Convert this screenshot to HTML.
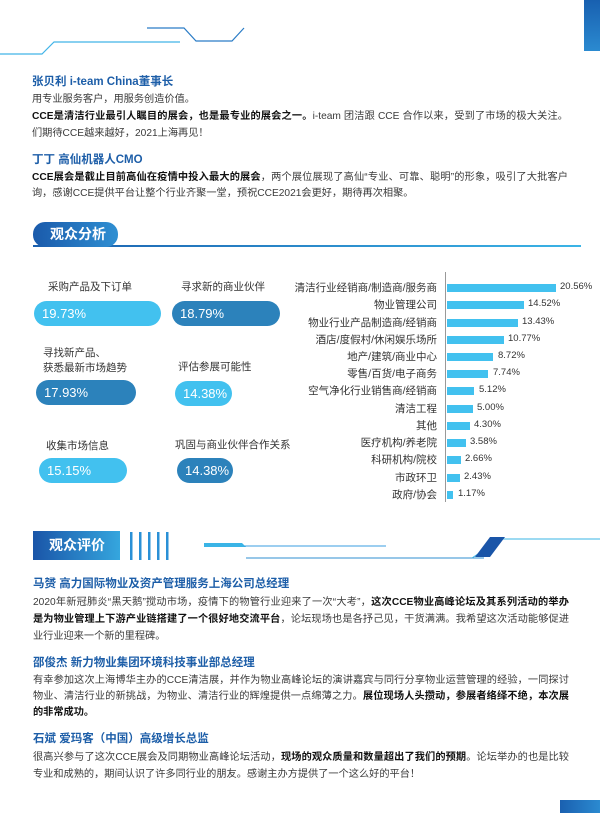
<!DOCTYPE html>
<html><head><meta charset="utf-8"><style>
*{margin:0;padding:0;box-sizing:border-box}
body{width:600px;height:813px;position:relative;background:#fff;font-family:"Liberation Sans","Noto Sans CJK SC",sans-serif;color:#333;overflow:hidden}
.a{position:absolute;white-space:nowrap}
.h{font-size:11.5px;font-weight:bold;color:#1d5ea8}
.t{font-size:10.2px;color:#3a3a3a}
.f{width:536px;white-space:normal;text-align:justify;text-align-last:justify;height:15px;overflow:hidden}
b{color:#111}
.pill{position:absolute;height:25px;border-radius:13px;color:#fff;font-size:13px;line-height:25px;padding-left:8px}
.lt{background:#42c1ef}.dk{background:#2c82bb}
.lab{position:absolute;font-size:10.5px;color:#333;white-space:nowrap}
.bl{position:absolute;font-size:10.5px;color:#333;right:163px;white-space:nowrap}
.bar{position:absolute;left:447px;height:8px;background:#42c1ef}
.pv{position:absolute;font-size:9.5px;color:#333}
</style></head><body>
<div class="a" style="left:584px;top:0;width:16px;height:51px;background:linear-gradient(#1860b0,#2b8ad0)"></div>
<svg class="a" style="left:0;top:0" width="600" height="70">
<polyline points="0,54 42,54 54,42 180,42" fill="none" stroke="#42b4e8" stroke-width="1.2"/>
<polyline points="147,28 184,28 196,41 232,41 244,28" fill="none" stroke="#2a7cc6" stroke-width="1.2"/>
</svg>
<div class="a h" style="left:32px;top:73px">张贝利 i-team China董事长</div>
<div class="a t" style="left:32px;top:90px">用专业服务客户，用服务创造价值。</div>
<div class="a t f" style="left:32px;top:107px"><b>CCE是清洁行业最引人瞩目的展会，也是最专业的展会之一。</b>i-team 团洁跟 CCE 合作以来，受到了市场的极大关注。我</div>
<div class="a t" style="left:32px;top:124px">们期待CCE越来越好，2021上海再见！</div>
<div class="a h" style="left:32px;top:151px">丁丁 高仙机器人CMO</div>
<div class="a t f" style="left:32px;top:168px"><b>CCE展会是截止目前高仙在疫情中投入最大的展会</b>，两个展位展现了高仙“专业、可靠、聪明”的形象，吸引了大批客户咨</div>
<div class="a t" style="left:32px;top:184px">询，感谢CCE提供平台让整个行业齐聚一堂，预祝CCE2021会更好，期待再次相聚。</div>
<div class="a" style="left:33px;top:245px;width:548px;height:2px;background:linear-gradient(90deg,#1a5fae,#3bb4e6)"></div>
<div class="a" style="left:33px;top:222px;width:85px;height:25px;border-radius:12px;background:linear-gradient(90deg,#1a5aab,#2f8fd2);color:#fff;font-weight:bold;font-size:14px;line-height:25px;padding-left:17px">观众分析</div>

<div class="lab" style="left:48px;top:279px">采购产品及下订单</div>
<div class="pill lt" style="left:34px;top:301px;width:127px">19.73%</div>
<div class="lab" style="left:181px;top:279px">寻求新的商业伙伴</div>
<div class="pill dk" style="left:172px;top:301px;width:108px">18.79%</div>
<div class="lab" style="left:43px;top:346px;line-height:15px">寻找新产品、<br>获悉最新市场趋势</div>
<div class="pill dk" style="left:36px;top:380px;width:100px">17.93%</div>
<div class="lab" style="left:178px;top:359px">评估参展可能性</div>
<div class="pill lt" style="left:175px;top:381px;width:57px">14.38%</div>
<div class="lab" style="left:46px;top:438px">收集市场信息</div>
<div class="pill lt" style="left:39px;top:458px;width:88px">15.15%</div>
<div class="lab" style="left:175px;top:437px">巩固与商业伙伴合作关系</div>
<div class="pill dk" style="left:177px;top:458px;width:56px">14.38%</div>

<div class="a" style="left:445px;top:272px;width:1px;height:230px;background:#999"></div>
<div class="bl" style="top:280px">清洁行业经销商/制造商/服务商</div><div class="bar" style="top:284px;width:109px"></div><div class="pv" style="left:560px;top:281px">20.56%</div>
<div class="bl" style="top:297px">物业管理公司</div><div class="bar" style="top:301px;width:77px"></div><div class="pv" style="left:528px;top:298px">14.52%</div>
<div class="bl" style="top:315px">物业行业产品制造商/经销商</div><div class="bar" style="top:319px;width:71px"></div><div class="pv" style="left:522px;top:316px">13.43%</div>
<div class="bl" style="top:332px">酒店/度假村/休闲娱乐场所</div><div class="bar" style="top:336px;width:57px"></div><div class="pv" style="left:508px;top:333px">10.77%</div>
<div class="bl" style="top:349px">地产/建筑/商业中心</div><div class="bar" style="top:353px;width:46px"></div><div class="pv" style="left:498px;top:350px">8.72%</div>
<div class="bl" style="top:366px">零售/百货/电子商务</div><div class="bar" style="top:370px;width:41px"></div><div class="pv" style="left:493px;top:367px">7.74%</div>
<div class="bl" style="top:383px">空气净化行业销售商/经销商</div><div class="bar" style="top:387px;width:27px"></div><div class="pv" style="left:479px;top:384px">5.12%</div>
<div class="bl" style="top:401px">清洁工程</div><div class="bar" style="top:405px;width:26px"></div><div class="pv" style="left:477px;top:402px">5.00%</div>
<div class="bl" style="top:418px">其他</div><div class="bar" style="top:422px;width:23px"></div><div class="pv" style="left:474px;top:419px">4.30%</div>
<div class="bl" style="top:435px">医疗机构/养老院</div><div class="bar" style="top:439px;width:19px"></div><div class="pv" style="left:470px;top:436px">3.58%</div>
<div class="bl" style="top:452px">科研机构/院校</div><div class="bar" style="top:456px;width:14px"></div><div class="pv" style="left:465px;top:453px">2.66%</div>
<div class="bl" style="top:470px">市政环卫</div><div class="bar" style="top:474px;width:13px"></div><div class="pv" style="left:464px;top:471px">2.43%</div>
<div class="bl" style="top:487px">政府/协会</div><div class="bar" style="top:491px;width:6px"></div><div class="pv" style="left:458px;top:488px">1.17%</div>

<div class="a" style="left:33px;top:531px;width:87px;height:29px;background:linear-gradient(90deg,#1a55a8,#35a6de);color:#fff;font-weight:bold;font-size:14px;line-height:29px;padding-left:16px">观众评价</div>
<svg class="a" style="left:0;top:525px" width="600" height="45">
<g fill="#2a90d6"><rect x="130" y="7" width="2.5" height="28"/><rect x="139" y="7" width="2.5" height="28"/><rect x="148" y="7" width="2.5" height="28"/><rect x="157" y="7" width="2.5" height="28"/><rect x="166" y="7" width="2.5" height="28"/></g>
<polygon points="204,18 242,18 246,22 204,22" fill="#3ab4e6"/>
<line x1="244" y1="21" x2="386" y2="21" stroke="#3a9ee0" stroke-width="1"/>
<line x1="246" y1="33" x2="484" y2="33" stroke="#2f8fd2" stroke-width="1"/>
<polyline points="472,33 500,14 600,14" fill="none" stroke="#3ab4e6" stroke-width="1"/>
<polygon points="490,12 505,12 490,32 475,32" fill="#1a55a8"/>
</svg>

<div class="a h" style="left:33px;top:575px">马赟 高力国际物业及资产管理服务上海公司总经理</div>
<div class="a t f" style="left:33px;top:593px">2020年新冠肺炎“黑天鹅”搅动市场，疫情下的物管行业迎来了一次“大考”，<b>这次CCE物业高峰论坛及其系列活动的举办</b></div>
<div class="a t f" style="left:33px;top:610px"><b>是为物业管理上下游产业链搭建了一个很好地交流平台</b>，论坛现场也是各抒己见，干货满满。我希望这次活动能够促进物</div>
<div class="a t" style="left:33px;top:627px">业行业迎来一个新的里程碑。</div>
<div class="a h" style="left:33px;top:654px">邵俊杰 新力物业集团环境科技事业部总经理</div>
<div class="a t f" style="left:33px;top:671px">有幸参加这次上海博华主办的CCE清洁展，并作为物业高峰论坛的演讲嘉宾与同行分享物业运营管理的经验，一同探讨</div>
<div class="a t f" style="left:33px;top:687px">物业、清洁行业的新挑战，为物业、清洁行业的辉煌提供一点绵薄之力。<b>展位现场人头攒动，参展者络绎不绝，本次展会举办</b></div>
<div class="a t" style="left:33px;top:703px"><b>的非常成功。</b></div>
<div class="a h" style="left:33px;top:730px">石斌 爱玛客（中国）高级增长总监</div>
<div class="a t f" style="left:33px;top:748px">很高兴参与了这次CCE展会及同期物业高峰论坛活动，<b>现场的观众质量和数量超出了我们的预期</b>。论坛举办的也是比较</div>
<div class="a t" style="left:33px;top:765px">专业和成熟的，期间认识了许多同行业的朋友。感谢主办方提供了一个这么好的平台！</div>
<div class="a" style="left:560px;top:800px;width:40px;height:13px;background:linear-gradient(90deg,#1a60b0,#2b8ad0)"></div>
</body></html>
